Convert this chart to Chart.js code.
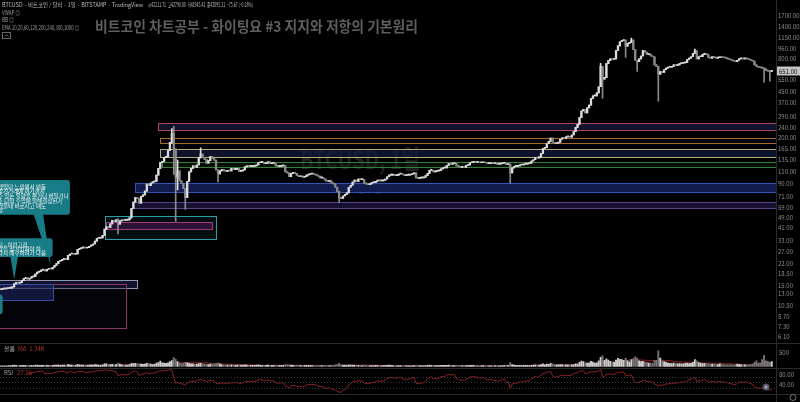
<!DOCTYPE html>
<html><head><meta charset="utf-8">
<script src="https://cdn.jsdelivr.net/npm/chart.js@4.4.1/dist/chart.umd.min.js"></script>
<style>html,body{margin:0;padding:0;background:#000;overflow:hidden}</style>
</head><body>
<canvas id="c" width="800" height="402" style="display:block;width:800px;height:402px"></canvas>
<script>
// ---------------- DATA (daily BTCUSD, Bitstamp) ----------------
const startDate = '2013-01-10';
const firstOpen = 13.9;
const close2013Jan = [14.0,14.1,14.1,14.2,14.3,14.3,14.6,15.4,15.8,15.6,15.7,16.3,16.9,17.2,16.7,17.0,17.4,17.5,18.3,18.9,19.2,19.6];
const close2013Feb = [19.9,19.3,19.9,20.1,20.0,20.6,21.3,22.0,22.9,23.1,23.7,24.1,23.6,25.4,26.0,26.2,25.9,26.1,28.2,28.6,29.0,29.3,28.9,29.1,29.8,30.4,31.0,32.6];
const close2013Mar = [34.3,34.4,34.5,36.1,40.3,42.0,41.5,44.1,46.9,46.0,47.4,44.0,46.5,47.0,46.9,47.1,47.4,49.0,58.0,64.6,70.0,69.0,63.6,71.5,73.5,78.5,88.9,86.2,90.5,92.2,93.0];
const close2013Apr = [104,117,130,132,142,143,160,185,215,165,100,112,94,90,82,70,93,110,117,122,119,124,142,150,141,137,128,134,144,139];
const close2013May = [135,114,106,112,115,112,111,113,112,117,115,115,117,111,112,114,120,122,121,121,121,122,124,129,130,130,127,128,131,127,128];
const close2013Jun = [128,122,121,121,122,123,110,108,101,107,108,107,103,101,102,100,101,104,105,106,106,105,104,102,99,99,97,94,93,94];
const close2013Jul = [90,89,84,78,70,69,72,74,76,84,87,92,95,93,97,96,96,90,89,88,89,91,91,93,95,94,94,95,97,101,104];
const close2013Aug = [104,104,103,104,106,106,105,103,104,104,105,106,108,99,98,99,99,100,103,107,113,113,110,111,112,113,116,118,118,123,127];
const close2013Sep = [126,127,128,122,121,119,120,119,123,124,129,130,131,130,130,129,129,130,129,127,127,128,127,127,126,126,127,128,129,125];
const close2013Oct = [126,108,118,121,121,122,124,124,126,126,127,128,133,136,142,140,143,152,166,168,180,188,199,185,180,182,185,195,200,197,203];
const close2013Nov = [203,202,210,223,240,253,285,320,330,310,338,355,400,417,417,440,490,700,560,575,735,775,800,790,800,925,1005,1080,1100,1110];
const close2013Dec = [1000,1050,1070,1110,940,780,760,800,840,930,900,860,870,840,830,720,700,610,640,630,660,680,690,690,700,720,710,720,735,740,745];
const close2014Jan = [750,790,810,830,880,920,800,830,830,860,880,860,820,810,830,820,810,815,830,820,815,810,800,790,780,770,760,780,800,805,800];
const close2014Feb = [805,800,790,780,770,720,700,690,685,680,670,650,645,640,651];

// notable wicks: date -> [low, high]
const wickLevels = {
  '2013-03-12':[37,48.5], '2013-04-09':[180,235], '2013-04-10':[105,245], '2013-04-11':[46,165],
  '2013-04-12':[80,135], '2013-04-16':[57,82], '2013-04-24':[140,168], '2013-05-03':[92,114],
  '2013-07-05':[64,78], '2013-10-02':[90,126], '2013-11-18':[490,740], '2013-11-19':[400,700],
  '2013-12-01':[820,1110], '2013-12-04':[1060,1150], '2013-12-07':[640,780], '2013-12-18':[380,700],
  '2014-01-06':[880,950], '2014-02-11':[530,680], '2014-02-14':[540,645]
};

const vol2013Jan = [25,20,18,22,30,28,35,45,40,30,28,35,40,38,30,32,35,30,45,50,40,42];
const vol2013Feb = [38,45,35,30,32,40,45,50,55,40,45,50,48,70,60,45,40,42,75,55,50,48,45,40,52,55,50,65];
const vol2013Mar = [60,45,40,55,90,95,70,65,75,60,70,120,80,55,50,45,50,70,110,100,115,95,90,85,75,80,110,90,85,70,75];
const vol2013Apr = [120,140,190,130,120,110,130,170,210,320,260,170,120,100,110,150,130,110,95,90,75,80,100,110,90,80,75,70,80,75];
const vol2013May = [80,110,120,90,60,55,50,50,45,55,45,40,45,50,45,40,55,50,40,35,40,40,45,55,40,35,40,35,45,40,40];
const vol2013Jun = [35,45,40,35,38,40,70,55,60,50,40,35,45,40,35,30,35,40,38,35,30,30,28,32,35,30,35,40,30,30];
const vol2013Jul = [45,35,60,70,110,55,45,50,40,60,45,50,45,35,40,35,30,45,40,30,28,32,30,35,38,30,28,30,35,40,45];
const vol2013Aug = [35,30,25,22,30,28,30,32,28,25,22,25,30,45,40,30,25,22,30,35,45,40,38,30,28,32,35,38,35,40,45];
const vol2013Sep = [35,30,28,35,38,35,30,28,30,32,40,38,35,28,25,25,28,30,28,30,25,22,25,28,25,22,25,28,30,35];
const vol2013Oct = [40,140,70,45,35,30,35,32,38,40,35,30,40,45,55,50,45,70,90,60,80,75,110,95,70,60,55,70,65,60,55];
const vol2013Nov = [50,45,55,70,90,80,150,190,170,140,120,130,180,160,120,130,200,330,380,220,270,230,180,140,150,230,290,260,250,220];
const vol2013Dec = [300,200,160,250,280,350,300,200,170,180,160,150,120,110,100,210,220,560,300,200,170,150,120,110,100,120,110,90,100,95,90];
const vol2014Jan = [110,120,100,110,150,250,200,140,120,100,110,100,90,80,85,80,75,70,90,70,65,60,55,60,65,50,70,80,75,60,55];
const vol2014Feb = [60,50,55,70,80,150,200,120,130,250,400,200,180,150,170];

const priceTicks = [1700,1400,1150,960,800,550,450,370,290,240,200,165,135,110,90,71,59,49,41,33,27,22,18.5,15,13,10.5,8.7,7.3,6.1];
const xTickDates = ['2013-01-15','2013-02-01','2013-02-15','2013-03-01','2013-03-15','2013-04-01','2013-04-15','2013-05-01','2013-05-15','2013-06-01','2013-06-15','2013-07-01','2013-07-15','2013-08-01','2013-08-15','2013-09-01','2013-09-15','2013-10-01','2013-10-15','2013-11-01','2013-11-15','2013-12-01','2013-12-15','2014-01-01','2014-01-15','2014-02-01','2014-02-17'];
const xTickLabels = ['15','2월','15','3월','15','4월','15','5월','15','6월','15','7월','15','8월','15','9월','15','10월','15','11월','15','12월','15','2014','15','2월','11'];

// drawn zones: [fromDate, toDate (null = extend right), low, high]
const zoneRanges = [
  ['2013-04-02', null, 231, 258],
  ['2013-04-03', null, 184, 200],
  ['2013-04-03', null, 143.5, 165.6],
  ['2013-04-04', null, 120.7, 130],
  ['2013-03-21', null, 77.4, 90.4],
  ['2013-03-20', null, 58.6, 64.7],
  ['2013-03-05', '2013-05-02', 33.7, 51],
  ['2013-03-06', '2013-04-30', 40.1, 45.3],
  ['2012-12-15', '2013-03-22', 14.2, 16.6],
  ['2012-12-15', '2013-03-16', 7.1, 15.3],
  ['2012-12-15', '2013-02-06', 11.7, 15.3]
];
const zoneStyles = [
  {stroke:'#a8475c', fill:'rgba(22,24,62,0.75)'},
  {stroke:'#a66a35', fill:'rgba(10,10,20,0.5)'},
  {stroke:'#b4ad78', fill:'rgba(18,24,60,0.75)'},
  {stroke:'#3c7d3f', fill:'rgba(14,30,18,0.5)'},
  {stroke:'#3553b3', fill:'rgba(22,34,96,0.8)'},
  {stroke:'#5b418e', fill:'rgba(32,24,70,0.7)'},
  {stroke:'#2a9fa8', fill:'rgba(10,40,48,0.35)'},
  {stroke:'#a53a7b', fill:'rgba(70,24,80,0.6)'},
  {stroke:'#8f95b2', fill:'rgba(26,32,70,0.6)'},
  {stroke:'#8e3766', fill:'rgba(12,10,24,0.3)'},
  {stroke:'#3a4ca6', fill:'rgba(30,38,100,0.55)'}
];
// callouts: box [from, to, low, high], pointer [baseFrom, baseTo, tipDate, tipPrice]
const calloutBoxes = [
  ['2012-12-15','2013-02-15', 51.8, 95.3],
  ['2012-12-15','2013-02-06', 24.7, 34.3],
  ['2012-12-15','2013-01-11', 9.05, 12.8]
];
const calloutPointers = [
  ['2013-01-27','2013-02-01','2013-02-05', 21.5],
  ['2013-01-15','2013-01-19','2013-01-17', 16.6],
  null
];
const calloutTexts = [
  ['했었던 느낌에서 반등','상기거래에 여기까지','수 있는 물량을 뿐거나 버틸거나','조 나의 수익에 의해결정된가','건물때 바로사고 매도','향'],
  ['고 - 이런고점','당을 상거갔져야 하','다시 매수하려가 나옴'],
  []
];

// ---------------- helpers ----------------
const DAY0 = Date.UTC(2013,0,1);
function dayNum(s){const [y,m,d]=s.split('-').map(Number);return (Date.UTC(y,m-1,d)-DAY0)/864e5;}
const firstDay = dayNum(startDate);
const closes = [].concat(close2013Jan,close2013Feb,close2013Mar,close2013Apr,close2013May,close2013Jun,close2013Jul,close2013Aug,close2013Sep,close2013Oct,close2013Nov,close2013Dec,close2014Jan,close2014Feb);
const volumes = [].concat(vol2013Jan,vol2013Feb,vol2013Mar,vol2013Apr,vol2013May,vol2013Jun,vol2013Jul,vol2013Aug,vol2013Sep,vol2013Oct,vol2013Nov,vol2013Dec,vol2014Jan,vol2014Feb);
const wickByDay = {};
for (const [k,v] of Object.entries(wickLevels)) wickByDay[dayNum(k)] = v;
const candles = closes.map((c,i)=>{
  const d = firstDay+i, o = i?closes[i-1]:firstOpen, w = wickByDay[d];
  return {d,o,c,lo:Math.min(o,c,w?w[0]:Infinity),hi:Math.max(o,c,w?w[1]:-Infinity),v:volumes[i],up:c>=o};
});
// RSI(14), Wilder
function rsiOf(vals,n){const out=new Array(vals.length).fill(null);let ag=0,al=0;
  for(let i=1;i<vals.length;i++){const ch=vals[i]-vals[i-1],g=Math.max(ch,0),l=Math.max(-ch,0);
    if(i<=n){ag+=g/n;al+=l/n;if(i===n)out[i]=al===0?100:100-100/(1+ag/al);}
    else{ag=(ag*(n-1)+g)/n;al=(al*(n-1)+l)/n;out[i]=al===0?100:100-100/(1+ag/al);}}
  return out;}
const rsiVals = rsiOf(closes,14);
function smaOf(vals,n){return vals.map((v,i)=>{if(i<n-1)return null;let s=0;for(let k=i-n+1;k<=i;k++)s+=vals[k];return s/n;});}
const volMA = smaOf(volumes,20);

const FONT = "'Noto Sans CJK KR','Noto Sans',sans-serif";
const UP='#dcdcdc', DOWN='#8a8a8a';
// scale calibration (pane layout)
const X_MIN = 8.64, X_MAX = 412.2;
const P_MIN = 2.2286, P_MAX = 2035.4;
const V_MIN = -1000, V_MAX = 13071;
const R_MIN = 7.27, R_MAX = 1440;

function fitText(ctx, txt, x, y, w){const m=ctx.measureText(txt).width;ctx.save();ctx.translate(x,y);ctx.scale(Math.min(1.6,w/m),1);ctx.fillText(txt,0,0);ctx.restore();}

const tvPlugin = {
  id:'tv',
  beforeDatasetsDraw(chart){
    const {ctx, scales:{x,y}} = chart;
    ctx.save();
    ctx.beginPath();ctx.rect(0,0,776,343);ctx.clip();
    // watermark
    ctx.fillStyle='#222222';ctx.textBaseline='alphabetic';
    ctx.font='600 26px '+FONT; fitText(ctx,'BTCUSD, 1일',300,169,120);
    ctx.font='11px '+FONT; fitText(ctx,'비트코인 / 달러',331,193,60);
    // zones
    zoneRanges.forEach((z,i)=>{
      const st=zoneStyles[i];
      const x1=Math.round(x.getPixelForValue(dayNum(z[0])));
      const x2=z[1]?Math.round(x.getPixelForValue(dayNum(z[1]))):chart.chartArea.right+2;
      const y1=Math.round(y.getPixelForValue(z[3])), y2=Math.round(y.getPixelForValue(z[2]));
      ctx.fillStyle=st.fill;ctx.fillRect(x1,y1,x2-x1,y2-y1);
      ctx.strokeStyle=st.stroke;ctx.lineWidth=1;ctx.strokeRect(x1+0.5,y1+0.5,x2-x1,y2-y1);
    });
    ctx.restore();
  },
  afterDatasetsDraw(chart){
    const {ctx, scales:{x,y,yv,yr}} = chart;
    ctx.save();
    // RSI level lines
    ctx.strokeStyle='#3a3a3a';ctx.setLineDash([1,2]);ctx.lineWidth=1;
    [70,50,30].forEach(v=>{const py=Math.round(yr.getPixelForValue(v))+0.5;ctx.beginPath();ctx.moveTo(0,py);ctx.lineTo(776,py);ctx.stroke();});
    ctx.setLineDash([]);
    // separators
    ctx.strokeStyle='#2a2a2a';
    [[0,343.5,800,343.5],[0,368.5,800,368.5],[0,394.5,800,394.5],[776.5,0,776.5,402]].forEach(l=>{ctx.beginPath();ctx.moveTo(l[0],l[1]);ctx.lineTo(l[2],l[3]);ctx.stroke();});
    // callouts
    ctx.save();ctx.beginPath();ctx.rect(0,0,776,343);ctx.clip();
    calloutBoxes.forEach((b,i)=>{
      const x1=x.getPixelForValue(dayNum(b[0])), x2=x.getPixelForValue(dayNum(b[1]));
      const y1=y.getPixelForValue(b[3]), y2=y.getPixelForValue(b[2]);
      ctx.fillStyle='#177c86';
      ctx.beginPath();ctx.roundRect(x1,y1,x2-x1,y2-y1,3);ctx.fill();
      const p=calloutPointers[i];
      if(p){ctx.beginPath();ctx.moveTo(x.getPixelForValue(dayNum(p[0])),y2-1);ctx.lineTo(x.getPixelForValue(dayNum(p[1])),y2-1);
        ctx.lineTo(x.getPixelForValue(dayNum(p[2])),y.getPixelForValue(p[3]));ctx.closePath();ctx.fill();}
      ctx.fillStyle='#f2f2f2';ctx.font='5.5px '+FONT;ctx.textBaseline='middle';
      const lines=calloutTexts[i];
      const step=(y2-y1-6)/Math.max(lines.length,1);
      lines.forEach((t,k)=>ctx.fillText(t,-2,y1+5+step*k+step*0.3));
    });
    ctx.restore();
    // volume / RSI labels
    ctx.font='6px '+FONT;ctx.textBaseline='middle';
    ctx.fillStyle='#a0a0a0';ctx.fillText('볼륨',4,349);
    ctx.fillStyle='#b03030';ctx.fillText('MA  1.34K',18,349);
    ctx.fillStyle='#a0a0a0';ctx.fillText('RSI',4,373);
    const lastR=rsiVals[rsiVals.length-1];
    ctx.fillStyle='#b03030';ctx.fillText(lastR.toFixed(2),17,373);
    ctx.fillStyle='#8c8c8c';
    ctx.fillText('500',779,yv.getPixelForValue(500));
    ctx.fillText('80.00',779,yr.getPixelForValue(80));
    ctx.fillText('40.00',779,yr.getPixelForValue(40));
    // last price tag
    const last=closes[closes.length-1], ly=Math.round(y.getPixelForValue(last));
    ctx.fillStyle='#c4c4c4';ctx.fillRect(777,ly-4.5,23,9);
    ctx.fillStyle='#111';ctx.fillText(last.toFixed(2),779,ly+0.5);
    // icons
    ctx.strokeStyle='#777';ctx.beginPath();ctx.arc(793,397.5,3,0,Math.PI*2);ctx.stroke();
    ctx.fillStyle='#556';ctx.beginPath();ctx.arc(766,387,3.5,0,Math.PI*2);ctx.fill();
    ctx.fillStyle='#aab';ctx.beginPath();ctx.arc(766,387,1.5,0,Math.PI*2);ctx.fill();
    // legend text
    ctx.textBaseline='middle';ctx.font='5.5px '+FONT;
    ctx.fillStyle='#bdbdbd';fitText(ctx,'BTCUSD · 비트코인 / 달러 · 1일 · BITSTAMP · TradingView',2,5,141);
    ctx.fillStyle='#bdbdbd';fitText(ctx,'시42211.71  고42790.00  저41945.42  종42095.31  −75.67 (−0.18%)',148,5,105);
    ctx.fillStyle='#9a9a9a';
    fitText(ctx,'VWAP ◎',2,12.5,18);
    fitText(ctx,'BB ◎',2,20,12);
    fitText(ctx,'EMA 10,20,60,120,200,240,300,1000 ◎',2,27.5,77);
    ctx.strokeStyle='#666';ctx.strokeRect(2.5,32.5,8,6);
    ctx.beginPath();ctx.moveTo(4.5,36.5);ctx.lineTo(6.5,34.5);ctx.lineTo(8.5,36.5);ctx.stroke();
    // title
    ctx.fillStyle='#5e5e5e';ctx.font='bold 15px '+FONT;ctx.textBaseline='alphabetic';
    fitText(ctx,'비트코인 차트공부 - 화이팅요 #3 지지와 저항의 기본원리',95,32,323);
    ctx.restore();
  }
};

new Chart(document.getElementById('c'), {
  type:'bar',
  data:{datasets:[
    {label:'body', yAxisID:'y', data:candles.map(c=>({x:c.d,y:[Math.min(c.o,c.c),Math.max(c.o,c.c)]})),
      backgroundColor:candles.map(c=>c.up?UP:DOWN), barThickness:1.6, minBarLength:1, grouped:false, order:0},
    {label:'wick', yAxisID:'y', data:candles.map(c=>({x:c.d,y:[c.lo,c.hi]})),
      backgroundColor:candles.map(c=>c.up?UP:DOWN), barThickness:1, grouped:false, order:1},
    {type:'line', label:'rsi', yAxisID:'yr', data:candles.map((c,i)=>({x:c.d,y:rsiVals[i]})),
      borderColor:'#8e2424', borderWidth:1, pointRadius:0, order:2},
    {label:'vol', yAxisID:'yv', data:candles.map(c=>({x:c.d,y:c.v})),
      backgroundColor:candles.map(c=>c.up?'#cfcfcf':'#767676'), barThickness:1.2, grouped:false, order:3},
    {type:'line', label:'volma', yAxisID:'yv', data:candles.map((c,i)=>({x:c.d,y:volMA[i]})),
      borderColor:'rgba(190,50,50,0.6)', borderWidth:1, backgroundColor:'rgba(160,40,40,0.22)', fill:{value:0}, pointRadius:0, order:4}
  ]},
  options:{
    responsive:false, devicePixelRatio:1, animation:false, events:[],
    layout:{padding:0},
    plugins:{legend:{display:false}, tooltip:{enabled:false}},
    scales:{
      x:{type:'linear', min:X_MIN, max:X_MAX, bounds:'data', offset:false, position:'bottom',
        grid:{display:false}, border:{display:false},
        afterBuildTicks:s=>{s.ticks=xTickDates.map(d=>({value:dayNum(d)}));},
        afterFit:s=>{s.height=8;},
        ticks:{autoSkip:false, maxRotation:0, minRotation:0, padding:1, color:'#8c8c8c', font:{size:6,family:FONT},
          callback:(v)=>{const i=xTickDates.findIndex(d=>dayNum(d)===v);return i>=0?xTickLabels[i]:'';}}},
      y:{type:'logarithmic', position:'right', min:P_MIN, max:P_MAX, bounds:'data',
        grid:{display:false, drawTicks:false}, border:{display:false},
        afterBuildTicks:s=>{s.ticks=priceTicks.map(v=>({value:v}));},
        afterFit:s=>{s.width=24;},
        ticks:{autoSkip:false, padding:2, color:'#8c8c8c', font:{size:6,family:FONT}, callback:v=>Number(v).toFixed(2)}},
      yv:{type:'linear', display:false, min:V_MIN, max:V_MAX, bounds:'data'},
      yr:{type:'linear', display:false, min:R_MIN, max:R_MAX, bounds:'data'}
    }
  },
  plugins:[tvPlugin]
});
</script>
</body></html>
